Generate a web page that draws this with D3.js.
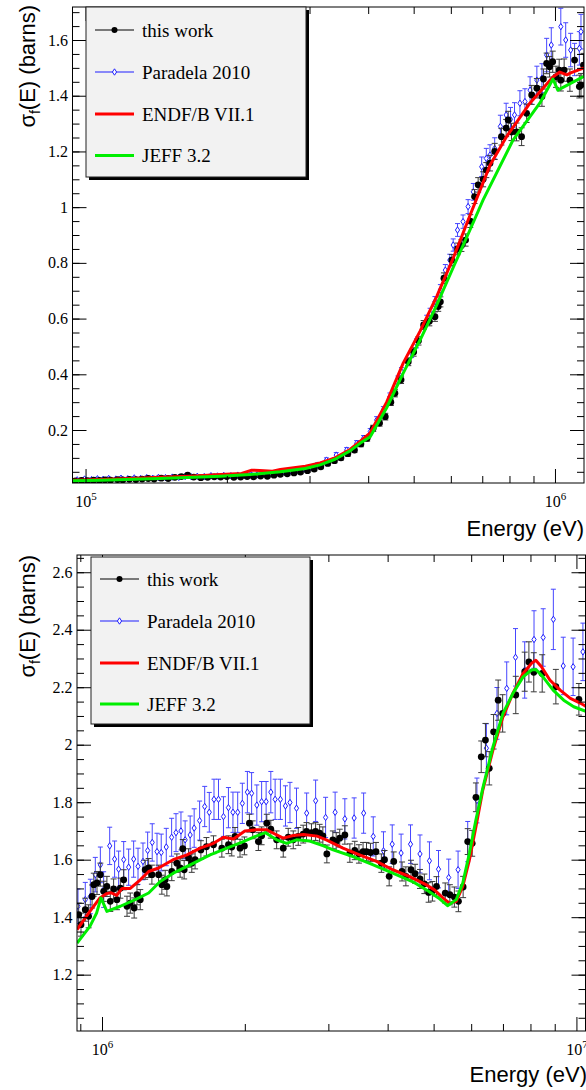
<!DOCTYPE html>
<html>
<head>
<meta charset="utf-8">
<script src="https://cdn.jsdelivr.net/npm/d3@7"></script>
<style>
    body { margin: 0; background: #fff; }
    svg { display: block; }
</style>
</head>
<body>
<div id="chart"></div>
<script>
// values: [energy (eV), sigma_f (barns), error (barns)]

const legend_labels = ['this work', 'Paradela 2010', 'ENDF/B VII.1', 'JEFF 3.2'];

const top_y_ticks = [0.2, 0.4, 0.6, 0.8, 1, 1.2, 1.4, 1.6];
const bot_y_ticks = [1.2, 1.4, 1.6, 1.8, 2, 2.2, 2.4, 2.6];
const top_x_ticks = [1e5, 1e6];
const bot_x_ticks = [1e6, 1e7];

const top_this_work = [
    [9.5e4,0.017,0.004],[9.8e4,0.019,0.004],[1.01e5,0.018,0.004],[1.04e5,0.020,0.004],[1.07e5,0.019,0.004],
    [1.10e5,0.021,0.004],[1.13e5,0.020,0.004],[1.17e5,0.022,0.004],[1.20e5,0.021,0.004],[1.24e5,0.023,0.004],
    [1.28e5,0.022,0.004],[1.32e5,0.024,0.004],[1.36e5,0.026,0.004],[1.40e5,0.024,0.004],[1.45e5,0.027,0.004],
    [1.50e5,0.026,0.004],[1.55e5,0.030,0.005],[1.60e5,0.033,0.005],[1.65e5,0.038,0.005],[1.70e5,0.031,0.005],
    [1.76e5,0.029,0.005],[1.82e5,0.030,0.005],[1.88e5,0.032,0.005],[1.94e5,0.031,0.005],[2.00e5,0.033,0.005],
    [2.07e5,0.030,0.005],[2.14e5,0.031,0.005],[2.21e5,0.033,0.005],[2.28e5,0.032,0.005],[2.36e5,0.035,0.005],
    [2.44e5,0.034,0.005],[2.52e5,0.038,0.005],[2.60e5,0.041,0.006],[2.69e5,0.043,0.006],[2.78e5,0.046,0.006],
    [2.87e5,0.049,0.006],[2.97e5,0.054,0.006],[3.07e5,0.060,0.007],[3.17e5,0.068,0.007],[3.28e5,0.080,0.008],
    [3.39e5,0.090,0.008],[3.50e5,0.100,0.008],[3.62e5,0.115,0.009],[3.74e5,0.128,0.009],[3.86e5,0.150,0.010],
    [3.98e5,0.170,0.010],[4.10e5,0.206,0.011],[4.23e5,0.225,0.011],[4.35e5,0.248,0.012],[4.47e5,0.300,0.012],
    [4.56e5,0.332,0.013],[4.70e5,0.380,0.013],[4.87e5,0.445,0.014],[5.00e5,0.480,0.015],[5.12e5,0.520,0.015],
    [5.25e5,0.577,0.016],[5.40e5,0.590,0.016],[5.55e5,0.607,0.017],[5.64e5,0.643,0.017],[5.70e5,0.660,0.018],
    [5.80e5,0.745,0.019],[6.03e5,0.810,0.020],[6.20e5,0.850,0.021],[6.32e5,0.862,0.021],[6.45e5,0.882,0.022],
    [6.60e5,0.950,0.023],[6.74e5,1.038,0.025],[6.86e5,1.080,0.026],[7.03e5,1.100,0.027],[7.14e5,1.133,0.027],
    [7.27e5,1.158,0.028],[7.44e5,1.200,0.029],[7.69e5,1.253,0.030],[7.87e5,1.284,0.031],[7.95e5,1.313,0.031],
    [8.08e5,1.270,0.031],[8.28e5,1.270,0.032],[8.49e5,1.253,0.032],[8.70e5,1.337,0.033],[8.92e5,1.403,0.034],
    [9.15e5,1.427,0.035],[9.38e5,1.397,0.035],[9.45e5,1.460,0.036],[9.60e5,1.516,0.037],[9.74e5,1.504,0.037],
    [9.89e5,1.522,0.038],[1.005e6,1.468,0.038],[1.021e6,1.492,0.039],[1.029e6,1.456,0.039],[1.046e6,1.492,0.040],
    [1.076e6,1.456,0.040],[1.101e6,1.528,0.041],[1.127e6,1.433,0.041],[1.136e6,1.438,0.042],[1.150e6,1.510,0.042]
];

const top_paradela = [
    [9.6e4,0.021,0.005],[9.95e4,0.024,0.005],[1.03e5,0.022,0.005],[1.06e5,0.025,0.005],[1.09e5,0.023,0.005],
    [1.12e5,0.026,0.005],[1.16e5,0.024,0.005],[1.19e5,0.027,0.005],[1.23e5,0.025,0.005],[1.27e5,0.028,0.005],
    [1.31e5,0.026,0.005],[1.35e5,0.029,0.005],[1.39e5,0.027,0.005],[1.43e5,0.030,0.005],[1.48e5,0.029,0.005],
    [1.53e5,0.031,0.005],[1.58e5,0.030,0.005],[1.63e5,0.033,0.005],[1.68e5,0.032,0.005],[1.73e5,0.034,0.005],
    [1.79e5,0.033,0.005],[1.85e5,0.036,0.005],[1.91e5,0.035,0.005],[1.97e5,0.037,0.005],[2.04e5,0.036,0.005],
    [2.11e5,0.038,0.005],[2.18e5,0.037,0.005],[2.25e5,0.040,0.006],[2.32e5,0.039,0.006],[2.40e5,0.042,0.006],
    [2.48e5,0.044,0.006],[2.56e5,0.046,0.006],[2.65e5,0.049,0.006],[2.74e5,0.052,0.006],[2.83e5,0.056,0.007],
    [2.92e5,0.060,0.007],[3.02e5,0.066,0.007],[3.12e5,0.074,0.008],[3.26e5,0.092,0.008],[3.42e5,0.110,0.009],
    [3.60e5,0.128,0.009],[3.78e5,0.152,0.010],[3.91e5,0.170,0.010],[4.04e5,0.194,0.011],[4.17e5,0.236,0.012],
    [4.31e5,0.272,0.012],[4.45e5,0.320,0.013],[4.63e5,0.380,0.014],[4.71e5,0.410,0.014],[4.95e5,0.475,0.015],
    [5.07e5,0.511,0.016],[5.33e5,0.595,0.017],[5.42e5,0.619,0.018],[5.55e5,0.661,0.018],[5.70e5,0.703,0.019],
    [5.84e5,0.774,0.020],[5.97e5,0.810,0.021],[6.07e5,0.864,0.022],[6.20e5,0.918,0.023],[6.37e5,0.948,0.024],
    [6.53e5,1.002,0.025],[6.70e5,1.055,0.030],[6.98e5,1.145,0.035],[7.14e5,1.175,0.036],[7.27e5,1.187,0.037],
    [7.44e5,1.211,0.038],[7.65e5,1.290,0.040],[7.87e5,1.331,0.042],[8.04e5,1.315,0.043],[8.20e5,1.331,0.044],
    [8.42e5,1.373,0.045],[8.63e5,1.379,0.046],[8.85e5,1.420,0.048],[9.15e5,1.456,0.050],[9.38e5,1.463,0.052],
    [9.60e5,1.546,0.060],[9.82e5,1.582,0.062],[1.029e6,1.648,0.066],[1.054e6,1.600,0.062],[1.080e6,1.564,0.060],
    [1.101e6,1.530,0.058],[1.127e6,1.570,0.060],[1.136e6,1.630,0.062]
];

const top_endf = [
    [9.38e4,0.020],[1.08e5,0.022],[1.25e5,0.026],[1.44e5,0.030],[1.67e5,0.034],[1.94e5,0.040],
    [2.15e5,0.044],[2.26e5,0.056],[2.35e5,0.055],[2.50e5,0.052],[2.60e5,0.058],[2.94e5,0.070],
    [3.16e5,0.082],[3.40e5,0.100],[3.66e5,0.130],[3.85e5,0.160],[4.04e5,0.190],[4.38e5,0.300],
    [4.75e5,0.440],[5.16e5,0.555],[5.60e5,0.680],[6.08e5,0.820],[6.59e5,0.970],[7.27e5,1.150],
    [7.90e5,1.255],[8.85e5,1.374],[9.90e5,1.467],[1.024e6,1.485],[1.060e6,1.475],[1.080e6,1.482],
    [1.153e6,1.500]
];

const top_jeff = [
    [9.38e4,0.018],[1.08e5,0.020],[1.44e5,0.026],[1.94e5,0.034],[2.24e5,0.040],[2.60e5,0.050],
    [2.94e5,0.062],[3.16e5,0.075],[3.40e5,0.095],[3.66e5,0.125],[3.85e5,0.153],[4.04e5,0.176],
    [4.38e5,0.280],[4.75e5,0.404],[5.16e5,0.523],[5.60e5,0.649],[6.08e5,0.786],[6.59e5,0.918],
    [7.03e5,1.026],[8.14e5,1.241],[9.29e5,1.374],[9.90e5,1.460],[1.014e6,1.420],[1.153e6,1.470]
];

const bot_this_work = [
    [8.93e5,1.409,0.04],[9.03e5,1.374,0.04],[9.22e5,1.426,0.04],[9.37e5,1.403,0.04],[9.53e5,1.472,0.04],
    [9.61e5,1.513,0.04],[9.76e5,1.519,0.04],[9.92e5,1.548,0.04],[1.008e6,1.490,0.035],[1.024e6,1.507,0.035],
    [1.041e6,1.455,0.035],[1.058e6,1.498,0.035],[1.075e6,1.461,0.035],[1.093e6,1.501,0.035],[1.111e6,1.530,0.035],
    [1.129e6,1.438,0.035],[1.147e6,1.449,0.035],[1.169e6,1.432,0.035],[1.185e6,1.478,0.035],[1.204e6,1.461,0.035],
    [1.233e6,1.565,0.033],[1.254e6,1.571,0.033],[1.274e6,1.548,0.033],[1.316e6,1.548,0.033],[1.337e6,1.513,0.033],
    [1.359e6,1.530,0.033],[1.370e6,1.507,0.033],[1.403e6,1.559,0.032],[1.438e6,1.588,0.032],[1.461e6,1.571,0.032],
    [1.480e6,1.638,0.032],[1.490e6,1.565,0.032],[1.522e6,1.606,0.032],[1.546e6,1.588,0.032],[1.571e6,1.600,0.032],
    [1.616e6,1.634,0.032],[1.660e6,1.645,0.032],[1.718e6,1.652,0.031],[1.789e6,1.640,0.031],[1.847e6,1.652,0.031],
    [1.877e6,1.644,0.031],[1.907e6,1.681,0.031],[1.954e6,1.640,0.031],[1.996e6,1.648,0.031],[2.045e6,1.727,0.031],
    [2.078e6,1.704,0.031],[2.136e6,1.663,0.031],[2.170e6,1.683,0.031],[2.225e6,1.727,0.031],[2.269e6,1.706,0.031],
    [2.334e6,1.669,0.031],[2.410e6,1.640,0.031],[2.469e6,1.678,0.031],[2.530e6,1.669,0.031],[2.592e6,1.681,0.031],
    [2.655e6,1.689,0.031],[2.698e6,1.698,0.031],[2.764e6,1.694,0.031],[2.820e6,1.698,0.031],[2.875e6,1.692,0.031],
    [2.921e6,1.683,0.031],[2.978e6,1.620,0.031],[3.066e6,1.669,0.031],[3.116e6,1.663,0.031],[3.170e6,1.675,0.031],
    [3.250e6,1.686,0.032],[3.330e6,1.623,0.032],[3.410e6,1.632,0.032],[3.480e6,1.620,0.032],[3.550e6,1.628,0.032],
    [3.610e6,1.628,0.032],[3.680e6,1.625,0.032],[3.780e6,1.628,0.032],[3.880e6,1.588,0.032],[3.940e6,1.600,0.032],
    [4.030e6,1.542,0.033],[4.120e6,1.594,0.033],[4.290e6,1.559,0.033],[4.370e6,1.542,0.033],[4.480e6,1.565,0.033],
    [4.570e6,1.551,0.033],[4.680e6,1.533,0.033],[4.780e6,1.516,0.034],[4.880e6,1.486,0.034],[4.970e6,1.490,0.034],
    [5.070e6,1.507,0.034],[5.290e6,1.484,0.035],[5.410e6,1.478,0.035],[5.530e6,1.470,0.035],[5.640e6,1.455,0.036],
    [5.770e6,1.505,0.037],[5.900e6,1.663,0.045],[6.030e6,1.657,0.045],[6.140e6,1.817,0.05],[6.300e6,1.958,0.055],
    [6.430e6,2.016,0.058],[6.550e6,1.918,0.058],[6.690e6,2.045,0.06],[6.840e6,2.155,0.07],[6.990e6,2.109,0.065],
    [7.450e6,2.173,0.065],[7.780e6,2.254,0.068],[7.940e6,2.288,0.07],[8.130e6,2.252,0.068],[8.470e6,2.248,0.065],
    [9.050e6,2.202,0.06],[1.012e7,2.158,0.055]
];

const bot_paradela = [
    [8.90e5,1.438,0.06],[9.22e5,1.461,0.06],[9.45e5,1.472,0.06],[9.68e5,1.548,0.06],[9.92e5,1.582,0.062],
    [1.008e6,1.496,0.062],[1.038e6,1.648,0.065],[1.063e6,1.602,0.063],[1.084e6,1.567,0.063],[1.111e6,1.600,0.063],
    [1.138e6,1.574,0.063],[1.166e6,1.602,0.063],[1.191e6,1.577,0.063],[1.220e6,1.594,0.064],[1.248e6,1.632,0.064],
    [1.276e6,1.660,0.065],[1.306e6,1.628,0.064],[1.333e6,1.625,0.064],[1.366e6,1.644,0.065],[1.402e6,1.678,0.066],
    [1.432e6,1.694,0.066],[1.467e6,1.700,0.066],[1.497e6,1.669,0.066],[1.534e6,1.686,0.066],[1.564e6,1.710,0.067],
    [1.606e6,1.736,0.068],[1.646e6,1.785,0.07],[1.683e6,1.765,0.069],[1.722e6,1.810,0.07],[1.760e6,1.810,0.07],
    [1.803e6,1.750,0.069],[1.847e6,1.781,0.07],[1.888e6,1.765,0.07],[1.932e6,1.765,0.07],[1.976e6,1.796,0.07],
    [2.025e6,1.835,0.072],[2.067e6,1.831,0.072],[2.120e6,1.790,0.07],[2.170e6,1.802,0.07],[2.218e6,1.802,0.07],
    [2.269e6,1.835,0.072],[2.317e6,1.810,0.07],[2.377e6,1.810,0.07],[2.436e6,1.787,0.07],[2.490e6,1.799,0.07],
    [2.570e6,1.779,0.07],[2.700e6,1.762,0.07],[2.820e6,1.805,0.072],[2.960e6,1.747,0.07],[3.100e6,1.765,0.07],
    [3.250e6,1.742,0.07],[3.400e6,1.745,0.07],[3.560e6,1.762,0.07],[3.730e6,1.681,0.068],[3.920e6,1.631,0.066],
    [4.090e6,1.654,0.067],[4.270e6,1.623,0.066],[4.470e6,1.654,0.067],[4.680e6,1.620,0.066],[4.900e6,1.596,0.066],
    [5.120e6,1.567,0.065],[5.380e6,1.538,0.064],[5.630e6,1.565,0.065],[5.900e6,1.663,0.07],[6.170e6,1.806,0.078],
    [6.460e6,1.988,0.085],[6.800e6,2.109,0.09],[7.130e6,2.196,0.092],[7.440e6,2.304,0.1],[7.780e6,2.260,0.098],
    [8.140e6,2.366,0.1],[8.510e6,2.373,0.1],[8.940e6,2.436,0.105],[9.380e6,2.274,0.1],[9.840e6,2.271,0.1],
    [1.032e7,2.323,0.1]
];

const bot_endf = [
    [8.86e5,1.357],[9.43e5,1.420],[9.90e5,1.467],[1.023e6,1.482],[1.045e6,1.485],[1.074e6,1.476],
    [1.102e6,1.500],[1.147e6,1.500],[1.204e6,1.530],[1.254e6,1.559],[1.316e6,1.571],[1.412e6,1.600],
    [1.510e6,1.617],[1.610e6,1.640],[1.718e6,1.657],[1.803e6,1.678],[1.893e6,1.672],[2.000e6,1.700],
    [2.120e6,1.704],[2.225e6,1.704],[2.298e6,1.692],[2.410e6,1.675],[2.530e6,1.684],[2.660e6,1.688],
    [2.840e6,1.682],[2.970e6,1.669],[3.220e6,1.640],[3.490e6,1.617],[3.790e6,1.594],[4.100e6,1.565],
    [4.440e6,1.542],[4.820e6,1.513],[5.020e6,1.495],[5.230e6,1.467],[5.400e6,1.449],[5.580e6,1.455],
    [5.760e6,1.507],[5.950e6,1.600],[6.140e6,1.715],[6.350e6,1.843],[6.670e6,1.982],[7.000e6,2.097],
    [7.350e6,2.179],[7.720e6,2.248],[8.040e6,2.283],[8.210e6,2.294],[8.440e6,2.271],[8.790e6,2.225],
    [9.240e6,2.190],[9.710e6,2.161],[1.021e7,2.144],[1.050e7,2.132]
];

const bot_jeff = [
    [8.86e5,1.310],[9.43e5,1.368],[9.74e5,1.414],[9.95e5,1.467],[1.024e6,1.420],[1.093e6,1.438],
    [1.175e6,1.461],[1.254e6,1.484],[1.326e6,1.524],[1.413e6,1.553],[1.534e6,1.582],[1.690e6,1.617],
    [1.833e6,1.640],[1.985e6,1.663],[2.120e6,1.683],[2.210e6,1.694],[2.334e6,1.669],[2.450e6,1.657],
    [2.570e6,1.669],[2.740e6,1.665],[2.930e6,1.648],[3.070e6,1.634],[3.380e6,1.611],[3.730e6,1.582],
    [4.100e6,1.553],[4.510e6,1.524],[4.880e6,1.490],[5.120e6,1.467],[5.350e6,1.440],[5.580e6,1.461],
    [5.760e6,1.519],[5.950e6,1.623],[6.140e6,1.739],[6.350e6,1.850],[6.670e6,1.993],[7.000e6,2.109],
    [7.350e6,2.179],[7.720e6,2.236],[8.040e6,2.260],[8.210e6,2.262],[8.500e6,2.236],[8.930e6,2.190],
    [9.400e6,2.155],[9.870e6,2.132],[1.050e7,2.115]
];

const serif = "'Liberation Serif', 'Times New Roman', serif";
const sans = "'Liberation Sans', Arial, sans-serif";
const blue = '#1f1fff';
const blue_bar = '#4646ff';

var svg = d3.select('#chart')
    .append('svg')
    .attr('width', 586)
    .attr('height', 1090);

function drawPanel(p) {
    let x_scale = d3.scaleLog().domain(p.x_domain).range([p.left, p.right]);
    let y_scale = d3.scaleLinear().domain(p.y_domain).range([p.bottom, p.top]);

    let g = svg.append('g');

    g.append('clipPath')
        .attr('id', 'clip' + p.id)
        .append('rect')
        .attr('x', p.left)
        .attr('y', p.top)
        .attr('width', p.right - p.left)
        .attr('height', p.bottom - p.top);

    let plot = g.append('g').attr('clip-path', 'url(#clip' + p.id + ')');

    // Paradela 2010: error bars and open diamonds
    let para = plot.append('g');
    para.selectAll('.bar')
        .data(p.paradela)
        .enter()
        .append('path')
        .attr('d', function(d) {
            let x = x_scale(d[0]), y0 = y_scale(d[1] - d[2]), y1 = y_scale(d[1] + d[2]);
            return 'M' + x + ',' + y0 + 'V' + y1 + 'M' + (x - 2.5) + ',' + y0 + 'H' + (x + 2.5) +
                'M' + (x - 2.5) + ',' + y1 + 'H' + (x + 2.5);
        })
        .attr('stroke', blue_bar)
        .attr('stroke-width', 1)
        .attr('fill', 'none');
    para.selectAll('.mk')
        .data(p.paradela)
        .enter()
        .append('path')
        .attr('d', 'M0,-3.2L2.1,0L0,3.2L-2.1,0Z')
        .attr('transform', function(d) { return 'translate(' + x_scale(d[0]) + ',' + y_scale(d[1]) + ')'; })
        .attr('fill', '#fff')
        .attr('stroke', blue)
        .attr('stroke-width', 1);

    // this work: error bars and filled dots
    let mine = plot.append('g');
    mine.selectAll('.bar')
        .data(p.this_work)
        .enter()
        .append('path')
        .attr('d', function(d) {
            let x = x_scale(d[0]), y0 = y_scale(d[1] - d[2]), y1 = y_scale(d[1] + d[2]);
            return 'M' + x + ',' + y0 + 'V' + y1 + 'M' + (x - 3) + ',' + y0 + 'H' + (x + 3) +
                'M' + (x - 3) + ',' + y1 + 'H' + (x + 3);
        })
        .attr('stroke', '#3a3a3a')
        .attr('stroke-width', 1)
        .attr('fill', 'none');
    mine.selectAll('circle')
        .data(p.this_work)
        .enter()
        .append('circle')
        .attr('cx', function(d) { return x_scale(d[0]); })
        .attr('cy', function(d) { return y_scale(d[1]); })
        .attr('r', 3.4)
        .attr('fill', '#000');

    // evaluations
    let line = d3.line()
        .x(function(d) { return x_scale(d[0]); })
        .y(function(d) { return y_scale(d[1]); });

    plot.append('path').datum(p.endf).attr('d', line)
        .attr('fill', 'none').attr('stroke', '#ff0000').attr('stroke-width', 3).attr('stroke-linejoin', 'round');
    plot.append('path').datum(p.jeff).attr('d', line)
        .attr('fill', 'none').attr('stroke', '#00ee00').attr('stroke-width', 3).attr('stroke-linejoin', 'round');

    // axes, ticks pointing inwards on all four sides
    let lo = Math.floor(Math.log10(p.x_domain[0])), hi = Math.ceil(Math.log10(p.x_domain[1]));
    let x_minor = [];
    for (let e = lo; e < hi; e++) {
        for (let k = 2; k <= 9; k++) {
            let v = k * Math.pow(10, e);
            if (v > p.x_domain[0] && v < p.x_domain[1]) x_minor.push(v);
        }
    }
    let y_minor = d3.range(Math.ceil(p.y_domain[0] / 0.05) * 0.05, p.y_domain[1], 0.05);

    function strip(sel) { sel.select('.domain').remove(); sel.selectAll('line').attr('stroke', '#000'); }

    g.append('g').attr('transform', 'translate(0,' + p.bottom + ')')
        .call(d3.axisBottom(x_scale).tickValues(x_minor).tickSize(-7).tickFormat('')).call(strip);
    g.append('g').attr('transform', 'translate(0,' + p.top + ')')
        .call(d3.axisTop(x_scale).tickValues(x_minor).tickSize(-7).tickFormat('')).call(strip);
    g.append('g').attr('transform', 'translate(0,' + p.top + ')')
        .call(d3.axisTop(x_scale).tickValues(p.x_ticks).tickSize(-14).tickFormat('')).call(strip);

    let x_axis = g.append('g').attr('transform', 'translate(0,' + p.bottom + ')')
        .call(d3.axisBottom(x_scale).tickValues(p.x_ticks).tickSize(-14).tickPadding(12.5))
        .call(strip)
        .attr('font-family', serif)
        .attr('font-size', 16);
    x_axis.selectAll('text')
        .attr('fill', '#000')
        .each(function(d) {
            let t = d3.select(this).text('');
            t.append('tspan').text('10');
            t.append('tspan').attr('font-size', 11).attr('dy', -7).text(Math.round(Math.log10(d)));
        });

    g.append('g').attr('transform', 'translate(' + p.left + ',0)')
        .call(d3.axisLeft(y_scale).tickValues(y_minor).tickSize(-7).tickFormat('')).call(strip);
    g.append('g').attr('transform', 'translate(' + p.right + ',0)')
        .call(d3.axisRight(y_scale).tickValues(y_minor).tickSize(-7).tickFormat('')).call(strip);
    g.append('g').attr('transform', 'translate(' + p.right + ',0)')
        .call(d3.axisRight(y_scale).tickValues(p.y_ticks).tickSize(-14).tickFormat('')).call(strip);
    g.append('g').attr('transform', 'translate(' + p.left + ',0)')
        .call(d3.axisLeft(y_scale).tickValues(p.y_ticks).tickSize(-14).tickPadding(4.5).tickFormat(d3.format('~g')))
        .call(strip)
        .attr('font-family', serif)
        .attr('font-size', 16)
        .selectAll('text').attr('fill', '#000');

    g.append('rect')
        .attr('x', p.left)
        .attr('y', p.top)
        .attr('width', p.right - p.left)
        .attr('height', p.bottom - p.top)
        .attr('fill', 'none')
        .attr('stroke', '#000')
        .attr('stroke-width', 1);

    // axis titles
    let ylab = svg.append('text')
        .attr('transform', 'translate(35,' + p.ylabel_y + ') rotate(-90)')
        .attr('text-anchor', 'end')
        .attr('font-family', sans)
        .attr('font-size', 22);
    ylab.append('tspan').text('σ');
    ylab.append('tspan').attr('font-size', 14).attr('dy', 5).text('f');
    ylab.append('tspan').attr('dy', -5).text('(E) (barns)');

    svg.append('text')
        .attr('x', p.xlabel_x)
        .attr('y', p.xlabel_y)
        .attr('text-anchor', 'end')
        .attr('font-family', sans)
        .attr('font-size', 22)
        .text('Energy (eV)');

    // legend with ROOT style shadow
    let lg = svg.append('g');
    lg.append('rect')
        .attr('x', p.legend[0] + 3).attr('y', p.legend[1] + 3)
        .attr('width', p.legend[2]).attr('height', p.legend[3])
        .attr('fill', '#000');
    lg.append('rect')
        .attr('x', p.legend[0]).attr('y', p.legend[1])
        .attr('width', p.legend[2]).attr('height', p.legend[3])
        .attr('fill', '#f2f2f2').attr('stroke', '#222').attr('stroke-width', 1);

    let styles = [
        {stroke: '#000', width: 1},
        {stroke: blue, width: 1},
        {stroke: '#ff0000', width: 3},
        {stroke: '#00ee00', width: 3}
    ];
    let lx0 = p.legend[0] + 9, lx1 = p.legend[0] + 48, mid = (lx0 + lx1) / 2;
    legend_labels.forEach(function(label, i) {
        let yy = p.legend_rows[i];
        lg.append('line')
            .attr('x1', lx0).attr('x2', lx1).attr('y1', yy).attr('y2', yy)
            .attr('stroke', styles[i].stroke).attr('stroke-width', styles[i].width);
        if (i === 0) {
            lg.append('circle').attr('cx', mid).attr('cy', yy).attr('r', 3).attr('fill', '#000');
        }
        if (i === 1) {
            lg.append('path').attr('d', 'M0,-3.2L2.1,0L0,3.2L-2.1,0Z')
                .attr('transform', 'translate(' + mid + ',' + yy + ')')
                .attr('fill', '#fff').attr('stroke', blue);
        }
        lg.append('text')
            .attr('x', p.legend[0] + 56)
            .attr('y', yy + 6.5)
            .attr('font-family', serif)
            .attr('font-size', 19)
            .text(label);
    });
}

drawPanel({
    id: 'top',
    left: 72.5, right: 584, top: 7, bottom: 483,
    x_domain: [9.38e4, 1.153e6],
    y_domain: [0.0098, 1.7185],
    x_ticks: top_x_ticks,
    y_ticks: top_y_ticks,
    this_work: top_this_work,
    paradela: top_paradela,
    endf: top_endf,
    jeff: top_jeff,
    ylabel_y: 5,
    xlabel_x: 584, xlabel_y: 536,
    legend: [86, 7, 220, 170],
    legend_rows: [30, 72, 114, 155.5]
});

drawPanel({
    id: 'bot',
    left: 77, right: 585.5, top: 555, bottom: 1031,
    x_domain: [8.857e5, 1.045e7],
    y_domain: [1.004, 2.66],
    x_ticks: bot_x_ticks,
    y_ticks: bot_y_ticks,
    this_work: bot_this_work,
    paradela: bot_paradela,
    endf: bot_endf,
    jeff: bot_jeff,
    ylabel_y: 555,
    xlabel_x: 587, xlabel_y: 1082,
    legend: [91, 557, 219, 167],
    legend_rows: [579, 621, 663, 704]
});
</script>
</body>
</html>
